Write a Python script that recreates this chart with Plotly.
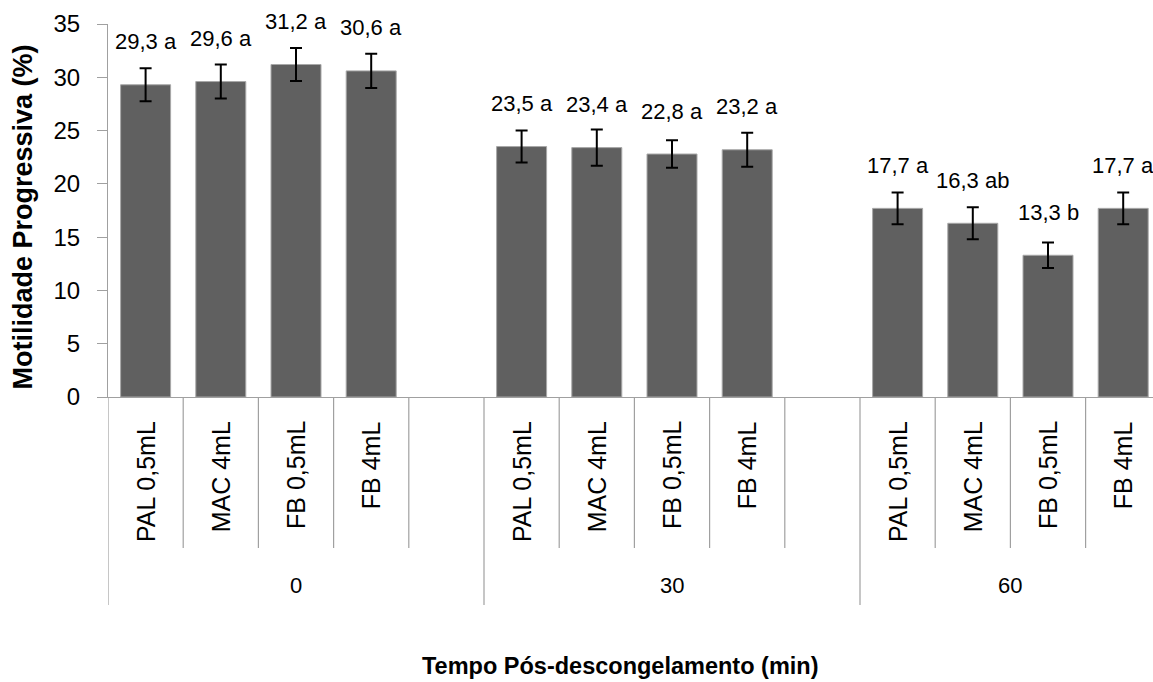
import plotly.graph_objects as go

# Thawing times (min) and straw/package treatments
tempos = ["0", "30", "60"]
tratamentos = ["PAL 0,5mL", "MAC 4mL", "FB 0,5mL", "FB 4mL"]

# Progressive motility (%) per time, in treatment order
motilidade = {
    "0": [29.3, 29.6, 31.2, 30.6],
    "30": [23.5, 23.4, 22.8, 23.2],
    "60": [17.7, 16.3, 13.3, 17.7],
}
erro = {
    "0": [1.55, 1.6, 1.55, 1.6],
    "30": [1.5, 1.7, 1.3, 1.6],
    "60": [1.5, 1.5, 1.2, 1.5],
}
letras = {
    "0": ["a", "a", "a", "a"],
    "30": ["a", "a", "a", "a"],
    "60": ["a", "ab", "b", "a"],
}

FONT = "Liberation Sans, Arial, sans-serif"
GRID_GREY = "#a0a0a0"
SLOT = 5  # 4 treatments + one blank slot between time groups

xs, ys, es, labels, cats = [], [], [], [], []
for g, t in enumerate(tempos):
    for i, tr in enumerate(tratamentos):
        xs.append(g * SLOT + i)
        ys.append(motilidade[t][i])
        es.append(erro[t][i])
        labels.append(f"{motilidade[t][i]:.1f}".replace(".", ",") + " " + letras[t][i])
        cats.append(tr)

fig = go.Figure()
fig.add_trace(go.Bar(
    x=xs, y=ys, width=0.665,
    marker=dict(color="#606060", line=dict(color="#a8a8a8", width=1)),
    error_y=dict(type="data", array=es, visible=True, color="black",
                 thickness=2, width=6),
    hoverinfo="skip",
))

annotations = []
# value + significance letters above bars
for x, y, lab in zip(xs, ys, labels):
    annotations.append(dict(x=x, y=y, xref="x", yref="y", text=lab, showarrow=False,
                            yshift=43, yanchor="middle", xanchor="center",
                            font=dict(family=FONT, size=22, color="black")))

PLOT_H = 373.0
def py(px_below_axis):
    return -px_below_axis / PLOT_H

# rotated treatment labels
for x, c in zip(xs, cats):
    annotations.append(dict(x=x, y=py(22), xref="x", yref="paper", text=c, showarrow=False,
                            textangle=-90, xanchor="center", yanchor="top",
                            font=dict(family=FONT, size=25, color="black")))

# time group labels
for g, t in enumerate(tempos):
    n = len(tratamentos) + (1 if g < len(tempos) - 1 else 0)
    cx = g * SLOT - 0.5 + n / 2.0
    annotations.append(dict(x=cx, y=py(188), xref="x", yref="paper", text=t, showarrow=False,
                            xanchor="center", yanchor="middle",
                            font=dict(family=FONT, size=22, color="black")))

# axis titles
annotations.append(dict(x=(23 - 108) / 1045.0, y=0.481, xref="paper", yref="paper",
                        text="<b>Motilidade Progressiva (%)</b>", showarrow=False,
                        textangle=-90, xanchor="center", yanchor="middle",
                        font=dict(family=FONT, size=27, color="black")))
annotations.append(dict(x=(620 - 108) / 1045.0, y=py(269), xref="paper", yref="paper",
                        text="<b>Tempo Pós-descongelamento (min)</b>", showarrow=False,
                        xanchor="center", yanchor="middle",
                        font=dict(family=FONT, size=23.5, color="black")))

# category separators below the axis
shapes = []
n_slots = SLOT * len(tempos) - 1
for k in range(n_slots):
    b = k - 0.5
    long_line = (k % SLOT == 0)
    shapes.append(dict(type="line", xref="x", yref="paper", x0=b, x1=b,
                       y0=0, y1=py(208) if long_line else py(151),
                       line=dict(color=GRID_GREY, width=1.2)))

fig.update_layout(
    width=1153, height=682,
    margin=dict(l=108, r=0, t=24, b=285),
    plot_bgcolor="white", paper_bgcolor="white",
    showlegend=False,
    font=dict(family=FONT, color="black"),
    xaxis=dict(range=[-0.5, -0.5 + 1045 / 75.2], showticklabels=False, ticks="",
               showgrid=False, zeroline=False, showline=True, linecolor=GRID_GREY,
               linewidth=1.2),
    yaxis=dict(range=[0, 35], dtick=5, showgrid=False, zeroline=False, showline=True,
               linecolor=GRID_GREY, linewidth=1.2, ticks="outside", ticklen=10,
               tickcolor=GRID_GREY, tickwidth=1.2, ticklabelstandoff=12,
               tickfont=dict(family=FONT, size=24, color="black")),
    annotations=annotations,
    shapes=shapes,
)

fig.write_html("out.html")
